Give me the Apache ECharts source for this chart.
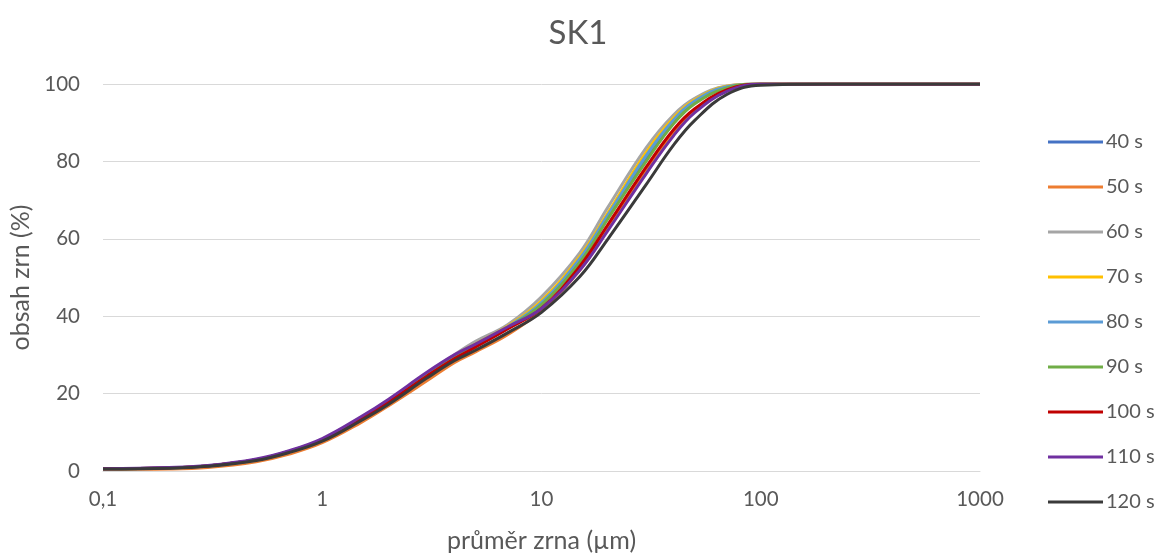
<!DOCTYPE html>
<html>
<head>
<meta charset="utf-8">
<script src="https://cdn.jsdelivr.net/npm/echarts@6/dist/echarts.min.js"></script>
<style>html,body{margin:0;padding:0;background:#fff;}#c{width:1156px;height:554px;}</style>
</head>
<body>
<div id="c"></div>
<script>
const titleText = 'SK1';
const xName = 'průměr zrna (µm)';
const yName = 'obsah zrn (%)';
const sizes = [0.1,0.2,0.3,0.5,0.7,1,1.5,2,3,4,5,7,10,15,20,30,40,50,70,100,200,500,1000];
const seriesNames = ['40 s','50 s','60 s','70 s','80 s','90 s','100 s','110 s','120 s'];
const s40  = [0.6,0.8,1.3,2.9,5.0,8.1,13.6,18.0,24.8,29.4,32.4,36.8,43.0,54.5,65.5,80.5,90.0,95.2,99.1,100,100,100,100];
const s50  = [0.4,0.5,0.9,2.4,4.3,7.3,12.5,16.8,23.3,28.0,30.8,35.2,41.5,52.0,62.5,78.0,87.5,93.2,98.4,100,100,100,100];
const s60  = [0.5,0.7,1.2,2.8,4.8,7.9,13.4,17.8,25.0,30.0,33.5,37.8,45.0,56.5,68.0,83.5,92.0,96.3,99.5,100,100,100,100];
const s70  = [0.6,0.8,1.3,2.9,5.0,8.1,13.6,18.0,25.0,29.8,32.8,37.4,44.0,55.5,66.5,82.3,91.2,95.9,99.4,100,100,100,100];
const s80  = [0.6,0.8,1.3,2.9,5.0,8.1,13.6,18.0,24.9,29.6,32.6,37.2,43.5,55.0,66.0,81.5,90.7,95.6,99.3,100,100,100,100];
const s90  = [0.6,0.8,1.3,2.9,5.0,8.1,13.6,18.0,24.7,29.3,32.3,37.0,43.0,54.0,65.0,80.0,89.7,94.9,99.0,100,100,100,100];
const s100 = [0.6,0.8,1.3,2.9,4.9,8.0,13.5,17.8,24.5,29.0,32.0,36.7,42.0,53.0,63.5,78.5,88.2,93.6,98.5,100,100,100,100];
const s110 = [0.6,0.9,1.4,3.1,5.2,8.4,14.0,18.5,25.5,30.0,32.8,37.2,42.0,52.0,62.0,76.8,86.6,92.6,98.1,100,100,100,100];
const s120 = [0.5,0.7,1.2,2.7,4.7,7.7,13.0,17.2,24.0,28.5,31.2,35.7,41.0,50.3,59.8,74.0,84.2,90.6,97.3,99.7,100,100,100];
const seriesValues = [s40,s50,s60,s70,s80,s90,s100,s110,s120];
const colors = ['#4472C4','#ED7D31','#A5A5A5','#FFC000','#5B9BD5','#70AD47','#C00000','#7030A0','#3A3A3A'];

const font = 'Lato, "Open Sans", sans-serif';
const chart = echarts.init(document.getElementById('c'));
chart.setOption({
  animation: false,
  color: colors,
  title: {
    text: titleText, left: 'center', top: 12,
    textStyle: {fontFamily: font, fontSize: 33, fontWeight: 'normal', color: '#595959'}
  },
  grid: {left: 103, right: 176, top: 84, bottom: 83, outerBoundsMode: 'none', containLabel: false},
  legend: {
    orient: 'vertical', left: 1043, top: 127,
    itemWidth: 55, itemHeight: 3, itemGap: 25, icon: 'rect',
    textStyle: {fontFamily: font, fontSize: 20, color: '#595959', padding: [0,0,0,-2]},
    data: seriesNames
  },
  xAxis: {
    type: 'log', logBase: 10, min: 0.1, max: 1000,
    name: xName, nameLocation: 'middle', nameGap: 57,
    nameTextStyle: {fontFamily: font, fontSize: 25, color: '#595959'},
    axisLine: {show: true, lineStyle: {color: '#D9D9D9', width: 1}},
    axisTick: {show: false},
    splitLine: {show: false},
    minorTick: {show: false},
    axisLabel: {
      fontFamily: font, fontSize: 20.5, color: '#595959', margin: 18,
      formatter: v => String(v).replace('.', ',')
    }
  },
  yAxis: {
    type: 'value', min: 0, max: 100, interval: 20,
    name: yName, nameLocation: 'middle', nameGap: 68,
    nameTextStyle: {fontFamily: font, fontSize: 25, color: '#595959'},
    axisLine: {show: false}, axisTick: {show: false},
    splitLine: {lineStyle: {color: '#D9D9D9', width: 1}},
    axisLabel: {fontFamily: font, fontSize: 20.5, color: '#595959', margin: 23}
  },
  series: seriesNames.map((n, i) => ({
    name: n, type: 'line', smooth: 0.4, showSymbol: false,
    lineStyle: {width: 3, color: colors[i]},
    itemStyle: {color: colors[i]},
    data: sizes.map((x, j) => [x, seriesValues[i][j]])
  }))
});
</script>
</body>
</html>
